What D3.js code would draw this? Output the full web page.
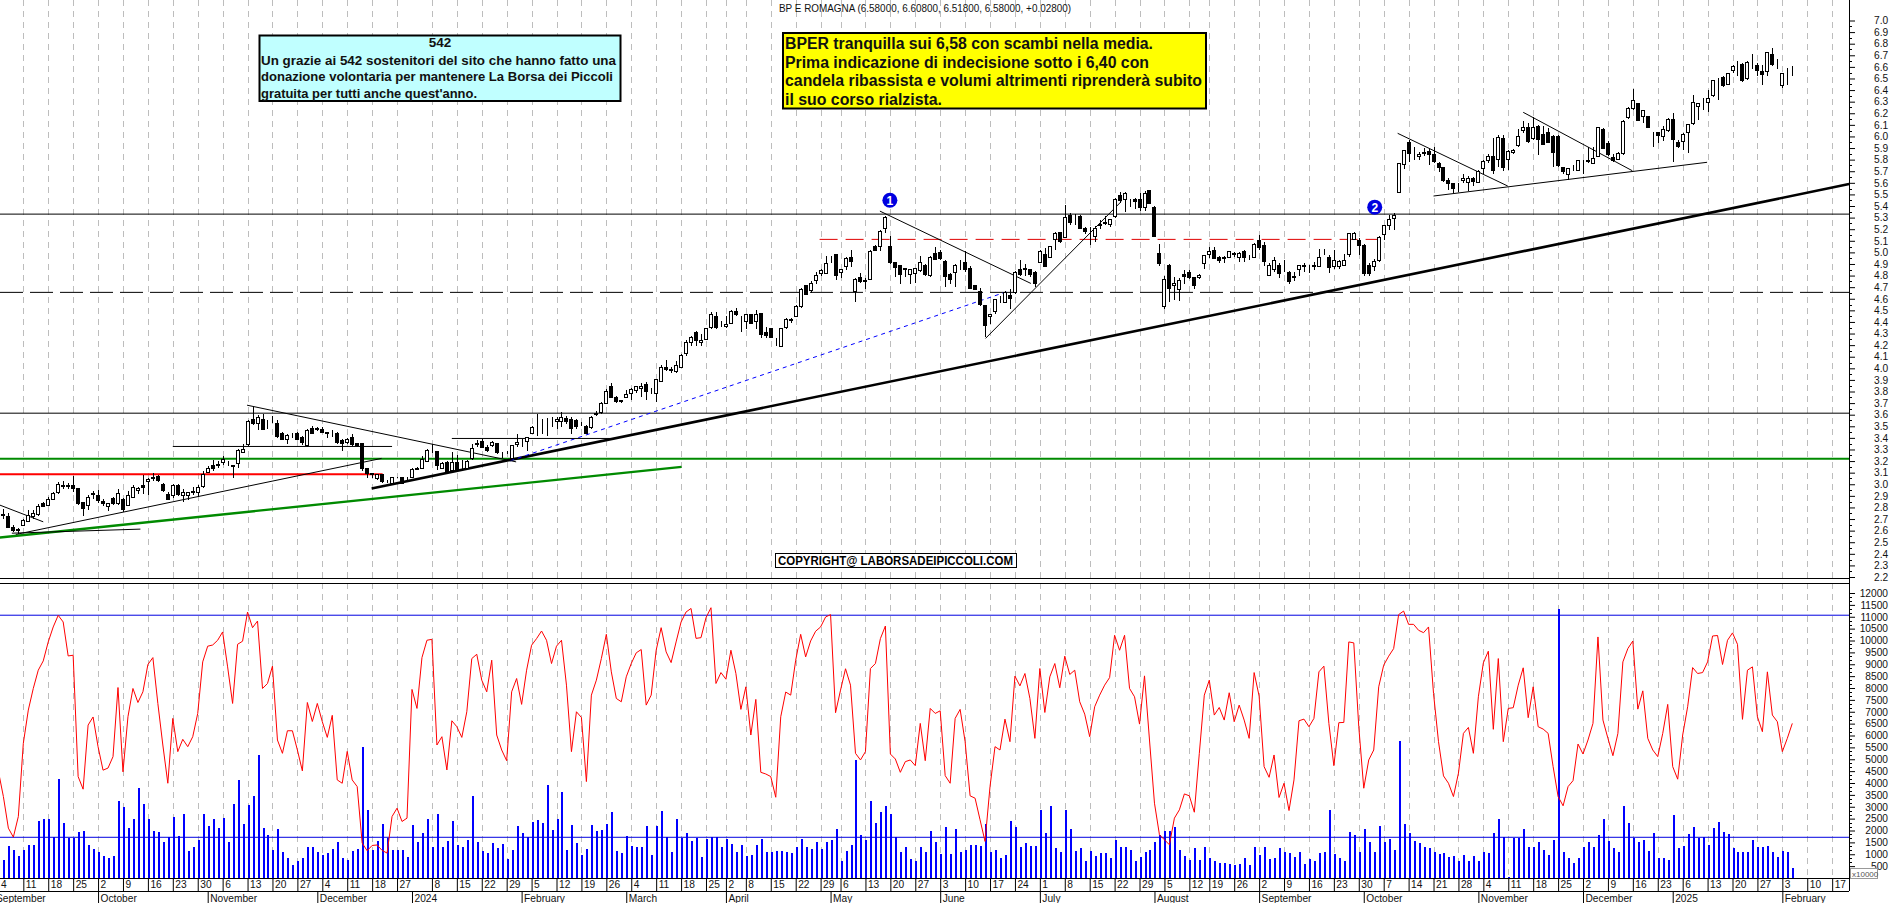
<!DOCTYPE html>
<html>
<head>
<meta charset="utf-8">
<title>BP E ROMAGNA</title>
<script src="https://cdnjs.cloudflare.com/ajax/libs/d3/7.8.5/d3.min.js"></script>
<style>
  html, body { margin: 0; padding: 0; background: #fff; overflow: hidden; }
  svg { display: block; font-family: "Liberation Sans", Arial, sans-serif; }
  .axis text { font-size: 10.2px; fill: #111; }
  .axis line { stroke: #000; }
</style>
</head>
<body>
<svg id="chart" width="1890" height="903"></svg>
<script>
// one row per session: open, high, low, close
const candles = [
[2.74,2.77,2.71,2.73],[2.74,2.79,2.70,2.73],[2.72,2.75,2.62,2.63],[2.63,2.65,2.59,2.60],[2.61,2.62,2.57,2.60],
[2.64,2.70,2.64,2.69],[2.68,2.78,2.68,2.73],[2.72,2.78,2.70,2.75],[2.74,2.83,2.73,2.81],[2.83,2.85,2.81,2.81],
[2.82,2.89,2.81,2.87],[2.87,2.93,2.87,2.92],[2.93,3.02,2.92,3.00],[2.98,3.03,2.96,2.99],[2.99,3.01,2.96,2.98],
[2.99,3.07,2.93,2.96],[2.96,2.96,2.82,2.83],[2.84,2.85,2.73,2.79],[2.82,2.91,2.78,2.89],[2.91,2.94,2.87,2.92],
[2.90,2.95,2.84,2.86],[2.85,2.87,2.81,2.83],[2.81,2.84,2.77,2.83],[2.88,2.89,2.82,2.83],[2.83,2.96,2.82,2.92],
[2.87,2.88,2.76,2.78],[2.82,2.94,2.81,2.90],[2.89,2.99,2.88,2.97],[2.95,2.98,2.92,2.96],[2.99,3.08,2.92,2.97],
[3.02,3.05,2.91,3.04],[3.05,3.10,3.03,3.06],[3.07,3.08,3.02,3.03],[3.00,3.01,2.93,2.95],[2.91,2.93,2.86,2.87],
[2.90,3.00,2.88,2.99],[2.99,3.00,2.90,2.91],[2.90,2.96,2.85,2.93],[2.90,2.93,2.86,2.93],[2.93,2.98,2.91,2.94],
[2.93,2.99,2.89,2.97],[2.98,3.11,2.97,3.08],[3.10,3.16,3.10,3.14],[3.16,3.21,3.11,3.14],[3.16,3.20,3.14,3.17],
[3.19,3.24,3.17,3.21],[3.18,3.20,3.16,3.18],[3.15,3.17,3.05,3.16],[3.18,3.30,3.14,3.29],[3.27,3.35,3.27,3.30],
[3.34,3.55,3.33,3.54],[3.56,3.67,3.51,3.52],[3.52,3.60,3.47,3.58],[3.56,3.61,3.47,3.47],[3.50,3.55,3.48,3.50],
[3.55,3.59,3.53,3.55],[3.52,3.55,3.40,3.41],[3.44,3.45,3.38,3.39],[3.39,3.43,3.35,3.42],[3.42,3.44,3.40,3.42],
[3.44,3.45,3.39,3.39],[3.40,3.42,3.34,3.36],[3.33,3.48,3.32,3.46],[3.48,3.50,3.43,3.44],[3.48,3.49,3.46,3.47],
[3.47,3.49,3.44,3.45],[3.44,3.45,3.40,3.45],[3.45,3.47,3.41,3.45],[3.44,3.45,3.35,3.36],[3.38,3.39,3.29,3.35],
[3.36,3.40,3.35,3.39],[3.40,3.43,3.33,3.34],[3.35,3.36,3.32,3.33],[3.35,3.36,3.11,3.14],[3.14,3.14,3.05,3.09],
[3.09,3.10,3.05,3.08],[3.05,3.09,3.04,3.08],[3.08,3.09,3.01,3.02],[3.02,3.04,3.01,3.02],[3.01,3.06,3.00,3.06],
[3.06,3.06,3.05,3.06],[3.06,3.06,3.01,3.01],[3.05,3.06,3.04,3.05],[3.06,3.14,3.05,3.13],[3.13,3.15,3.12,3.14],
[3.14,3.24,3.13,3.21],[3.20,3.30,3.19,3.29],[3.30,3.35,3.27,3.30],[3.28,3.29,3.12,3.16],[3.14,3.19,3.13,3.18],
[3.19,3.20,3.10,3.11],[3.12,3.28,3.10,3.19],[3.19,3.25,3.11,3.12],[3.16,3.21,3.12,3.16],[3.14,3.21,3.13,3.20],
[3.22,3.35,3.21,3.31],[3.34,3.38,3.32,3.35],[3.37,3.39,3.31,3.32],[3.32,3.34,3.28,3.29],[3.33,3.37,3.32,3.36],
[3.35,3.35,3.26,3.27],[3.26,3.28,3.23,3.26],[3.27,3.29,3.26,3.27],[3.22,3.34,3.22,3.33],[3.34,3.43,3.32,3.36],
[3.34,3.39,3.32,3.34],[3.37,3.41,3.29,3.40],[3.44,3.50,3.44,3.49],[3.50,3.61,3.42,3.50],[3.55,3.56,3.43,3.55],
[3.55,3.57,3.42,3.55],[3.55,3.58,3.49,3.55],[3.54,3.58,3.48,3.56],[3.54,3.62,3.49,3.58],[3.57,3.59,3.52,3.54],
[3.56,3.58,3.43,3.48],[3.55,3.56,3.48,3.50],[3.53,3.54,3.50,3.53],[3.50,3.51,3.43,3.44],[3.49,3.59,3.48,3.58],
[3.60,3.63,3.59,3.61],[3.62,3.71,3.61,3.70],[3.70,3.82,3.70,3.80],[3.84,3.87,3.75,3.75],[3.75,3.76,3.70,3.71],
[3.72,3.73,3.70,3.71],[3.75,3.81,3.74,3.77],[3.78,3.83,3.73,3.82],[3.81,3.85,3.79,3.84],[3.83,3.87,3.75,3.84],
[3.86,3.88,3.73,3.80],[3.81,3.83,3.78,3.81],[3.78,3.91,3.71,3.90],[3.89,4.03,3.89,4.01],[4.01,4.07,3.98,3.99],
[3.99,4.01,3.96,3.98],[3.97,4.06,3.96,4.02],[4.01,4.12,4.01,4.11],[4.13,4.24,4.11,4.22],[4.22,4.28,4.19,4.27],
[4.31,4.32,4.19,4.24],[4.22,4.30,4.19,4.24],[4.25,4.34,4.24,4.34],[4.35,4.49,4.34,4.46],[4.45,4.49,4.34,4.35],
[4.38,4.41,4.36,4.38],[4.36,4.45,4.35,4.38],[4.39,4.50,4.38,4.49],[4.49,4.52,4.45,4.46],[4.40,4.45,4.31,4.40],
[4.40,4.47,4.34,4.46],[4.46,4.46,4.38,4.39],[4.40,4.50,4.34,4.46],[4.47,4.48,4.26,4.29],[4.31,4.36,4.26,4.28],
[4.34,4.34,4.26,4.27],[4.22,4.26,4.19,4.22],[4.19,4.34,4.19,4.34],[4.35,4.43,4.34,4.42],[4.41,4.43,4.39,4.42],
[4.45,4.55,4.45,4.53],[4.53,4.69,4.52,4.68],[4.71,4.72,4.63,4.64],[4.67,4.75,4.65,4.73],[4.76,4.83,4.73,4.80],
[4.82,4.86,4.80,4.84],[4.82,4.97,4.81,4.90],[4.93,4.97,4.91,4.93],[4.98,4.99,4.76,4.80],[4.83,4.86,4.78,4.85],
[4.88,4.96,4.85,4.95],[4.96,5.02,4.87,4.92],[4.66,4.78,4.57,4.77],[4.78,4.82,4.74,4.75],[4.75,4.78,4.68,4.76],
[4.77,5.02,4.76,5.01],[5.05,5.06,5.01,5.02],[5.05,5.19,5.01,5.18],[5.21,5.31,5.17,5.30],[5.05,5.14,4.90,4.91],
[4.91,4.92,4.79,4.87],[4.89,4.89,4.73,4.81],[4.86,4.86,4.79,4.85],[4.81,4.85,4.73,4.85],[4.82,4.86,4.74,4.86],
[4.84,4.97,4.83,4.91],[4.89,4.90,4.80,4.81],[4.80,4.97,4.79,4.96],[4.99,5.05,4.93,4.94],[5.00,5.02,4.93,4.95],
[4.92,4.93,4.70,4.79],[4.81,4.82,4.73,4.77],[4.83,4.90,4.70,4.89],[4.90,4.93,4.85,4.90],[4.91,5.01,4.83,4.85],
[4.86,4.88,4.68,4.69],[4.71,4.72,4.68,4.68],[4.66,4.69,4.54,4.55],[4.54,4.55,4.27,4.37],[4.45,4.47,4.38,4.46],
[4.49,4.59,4.47,4.59],[4.60,4.62,4.56,4.60],[4.57,4.67,4.57,4.65],[4.63,4.68,4.51,4.60],[4.65,4.84,4.64,4.83],
[4.85,4.93,4.80,4.81],[4.85,4.90,4.80,4.86],[4.85,4.86,4.79,4.81],[4.83,4.84,4.70,4.73],[4.91,5.02,4.91,5.01],
[4.98,5.04,4.87,4.88],[4.96,5.05,4.95,5.05],[5.11,5.18,5.02,5.16],[5.17,5.18,5.08,5.09],[5.13,5.41,5.12,5.30],
[5.32,5.34,5.24,5.26],[5.29,5.33,5.24,5.29],[5.31,5.32,5.20,5.21],[5.21,5.22,5.16,5.18],[5.14,5.22,5.06,5.14],
[5.14,5.23,5.09,5.21],[5.23,5.28,5.20,5.24],[5.25,5.31,5.24,5.26],[5.24,5.29,5.22,5.28],[5.31,5.47,5.30,5.46],
[5.49,5.52,5.43,5.45],[5.46,5.52,5.35,5.51],[5.45,5.46,5.39,5.45],[5.46,5.47,5.37,5.44],[5.46,5.51,5.36,5.39],
[5.39,5.53,5.36,5.51],[5.53,5.54,5.42,5.42],[5.39,5.40,5.13,5.14],[4.99,5.07,4.88,4.90],[4.53,4.80,4.51,4.77],
[4.89,4.90,4.57,4.69],[4.71,4.79,4.59,4.73],[4.68,4.78,4.58,4.76],[4.81,4.85,4.73,4.79],[4.83,4.85,4.77,4.78],
[4.78,4.79,4.68,4.71],[4.78,4.81,4.77,4.80],[4.90,4.98,4.86,4.97],[4.98,5.05,4.95,5.01],[5.02,5.05,4.94,4.95],
[4.96,4.97,4.91,4.93],[4.95,4.97,4.91,4.96],[4.96,5.01,4.96,5.01],[4.98,5.00,4.96,4.99],[4.96,5.00,4.92,4.99],
[5.01,5.02,4.92,4.96],[4.96,4.98,4.93,4.96],[4.96,5.08,4.95,5.07],[5.10,5.15,5.02,5.04],[5.06,5.09,4.88,4.92],
[4.80,4.91,4.80,4.89],[4.85,4.96,4.83,4.93],[4.89,4.91,4.78,4.82],[4.84,4.93,4.83,4.84],[4.83,4.84,4.73,4.75],
[4.78,4.83,4.75,4.79],[4.85,4.89,4.80,4.89],[4.88,4.91,4.83,4.89],[4.88,4.89,4.82,4.88],[4.88,4.92,4.85,4.89],
[4.88,5.03,4.87,4.96],[5.00,5.03,4.98,5.00],[4.96,4.98,4.82,4.87],[4.88,5.02,4.86,4.93],[4.88,4.93,4.86,4.92],
[4.89,4.99,4.88,4.93],[4.98,5.17,4.96,5.16],[5.11,5.18,5.11,5.16],[5.10,5.12,4.98,5.06],[5.06,5.07,4.80,4.82],
[4.89,4.91,4.80,4.82],[4.88,4.94,4.84,4.92],[4.93,5.14,4.92,5.13],[5.15,5.24,5.11,5.23],[5.23,5.32,5.19,5.28],
[5.29,5.34,5.19,5.32],[5.52,5.77,5.51,5.77],[5.76,5.88,5.72,5.88],[5.95,5.97,5.78,5.85],[5.86,5.91,5.80,5.86],
[5.83,5.87,5.80,5.84],[5.86,5.90,5.83,5.85],[5.87,5.89,5.75,5.84],[5.84,5.91,5.77,5.78],[5.77,5.78,5.69,5.73],
[5.73,5.73,5.61,5.62],[5.62,5.64,5.54,5.59],[5.59,5.60,5.51,5.55],[5.59,5.60,5.52,5.59],[5.62,5.68,5.60,5.64],
[5.60,5.66,5.53,5.64],[5.64,5.65,5.57,5.61],[5.60,5.71,5.60,5.70],[5.72,5.80,5.68,5.78],[5.79,5.85,5.77,5.83],
[5.83,5.99,5.68,5.71],[5.80,6.01,5.74,5.99],[5.98,6.01,5.70,5.73],[5.80,5.88,5.71,5.87],[5.86,5.89,5.85,5.88],
[5.92,6.06,5.91,6.00],[6.05,6.13,6.03,6.08],[6.08,6.12,5.94,5.96],[5.98,6.17,5.97,6.08],[6.09,6.10,5.84,5.97],
[6.02,6.09,5.93,5.93],[6.03,6.07,5.94,5.95],[6.00,6.01,5.74,5.86],[6.00,6.01,5.74,5.75],[5.73,5.74,5.68,5.70],
[5.67,5.73,5.62,5.72],[5.75,5.75,5.70,5.75],[5.71,5.80,5.70,5.79],[5.78,5.80,5.68,5.78],[5.79,5.91,5.77,5.78],
[5.77,5.91,5.76,5.81],[5.83,6.08,5.83,6.08],[6.06,6.07,5.90,5.90],[5.94,5.96,5.83,5.84],[5.82,5.85,5.78,5.79],
[5.80,5.87,5.80,5.85],[5.85,6.14,5.84,6.13],[6.16,6.25,6.15,6.24],[6.24,6.41,6.23,6.31],[6.28,6.29,6.13,6.14],
[6.17,6.23,6.12,6.22],[6.17,6.18,6.07,6.08],[6.03,6.04,5.91,6.03],[6.03,6.04,5.94,6.01],[6.00,6.09,5.96,6.06],
[6.05,6.16,6.04,6.15],[6.15,6.20,5.78,5.97],[5.95,5.97,5.90,5.91],[5.96,6.03,5.88,6.02],[6.03,6.11,5.86,6.10],
[6.11,6.36,6.10,6.29],[6.26,6.29,6.14,6.28],[6.29,6.33,6.23,6.29],[6.29,6.40,6.21,6.33],[6.35,6.49,6.34,6.48],
[6.49,6.50,6.31,6.49],[6.51,6.52,6.43,6.44],[6.45,6.55,6.44,6.54],[6.57,6.62,6.55,6.60],[6.59,6.65,6.52,6.59],
[6.62,6.63,6.47,6.48],[6.50,6.65,6.49,6.64],[6.65,6.71,6.58,6.65],[6.61,6.63,6.52,6.57],[6.56,6.62,6.44,6.53],
[6.56,6.73,6.52,6.72],[6.71,6.76,6.61,6.62],[6.62,6.67,6.58,6.62],[6.44,6.55,6.42,6.54],[6.58,6.59,6.44,6.58],
[6.58,6.608,6.518,6.58]
];

const volumes = [
900,770,1360,1190,910,1160,1370,1390,2420,2490,
2490,1710,4170,2310,1670,1680,1930,1970,1390,1220,
1110,940,850,910,3250,3010,2110,2480,3780,3120,
2480,1960,1950,1530,1720,2580,1780,2700,1150,1320,
1600,2690,2200,2490,2110,2530,1530,3120,4120,2270,
3070,3440,5180,2100,1810,1190,2060,1090,850,560,
730,840,1300,1300,1090,950,1050,1230,1510,850,
770,1150,1230,5500,2860,1200,1550,2280,1680,1190,
1190,1190,900,2230,1510,1890,2490,1300,2700,1290,
1570,2410,1400,1320,1610,3440,1530,1150,1050,1470,
1260,1430,810,1190,2200,1900,1720,2340,2440,2310,
3910,2020,2480,3630,1190,2240,1480,950,1220,2230,
1970,2040,2280,2770,1150,1050,1780,1360,1320,1320,
2200,980,2200,2830,1720,1110,2490,1670,1900,1570,
1680,900,1640,1720,1720,1300,1640,1430,1090,1400,
910,950,1400,1640,1110,1090,1120,1150,1110,1050,
1320,1650,1320,1230,1530,1220,1530,1600,2070,730,
1150,1400,4970,1820,1610,3250,2320,2770,3040,2690,
1720,1110,1320,810,730,1320,1110,1990,1530,1010,
2160,1010,2070,1110,1190,1400,1400,1360,2280,1110,
1190,850,970,2410,2160,1300,1470,1360,1360,2870,
1900,3040,1260,1110,2870,2070,1150,1260,730,1150,
940,1060,1050,850,1610,1320,1300,1190,730,900,
1110,1190,1530,1810,1960,1990,2160,1190,940,740,
1260,770,1320,850,730,640,640,600,560,600,
850,560,1320,980,1320,810,850,1260,1110,1050,
900,1110,600,810,730,1060,1110,2870,1020,850,
730,1950,1820,1090,2070,1510,1110,2200,1530,1650,
1190,5770,2280,1890,1550,1470,1320,1280,1110,1020,
1060,880,940,730,980,700,940,730,1110,1060,
1890,2490,1720,50,1680,1680,2060,1300,1320,1500,
1190,980,1610,11310,1090,850,630,840,1300,1530,
1300,1820,2480,1570,1280,1110,3040,2320,1680,1530,
1600,1130,1900,850,850,770,2660,1260,1360,1860,
2160,1690,1720,1410,2110,2370,1950,1860,1260,1110,
1110,1110,1610,1300,1320,1360,1110,880,1150,1110,
430
];

const oscillator = [
4490,3430,2100,1720,2590,5670,7070,7980,8750,9140,
9940,10570,11060,10780,9350,9380,4270,3740,6440,6780,
5530,4540,4630,5110,8020,4470,6790,7980,7390,7840,
8990,9280,7350,5600,3990,6720,5320,5840,5530,5950,
6930,9100,9760,9810,10010,10360,8890,7350,9840,9970,
11200,10540,10820,7980,8190,8920,5810,5250,6200,6200,
5390,4510,7390,6590,7350,6580,5920,6850,4130,3990,
5330,4130,3850,1470,1150,1370,1390,1160,1050,2590,
2940,2380,2520,7940,7140,9280,10010,10050,5600,5950,
4550,6620,6370,5920,7000,9240,9420,8330,7840,9170,
6020,5390,4940,7840,8400,7310,8750,9800,10080,10400,
10010,9030,9760,10010,8120,5320,7000,6760,4060,7700,
8330,9240,10260,8680,7560,7420,8470,9030,9480,9620,
7280,7700,9590,10540,9520,9070,9940,10780,11200,11350,
10090,10120,10960,11380,8190,8650,8370,9590,8610,7100,
8050,6020,7520,4450,4380,4270,3400,6790,7830,7700,
9170,10260,9310,9980,10390,10570,10990,11090,6960,7910,
8810,8120,5250,4970,5320,8820,9030,10080,10610,5220,
5010,4450,4900,4970,4730,6510,4940,7140,6930,7040,
4310,3990,6720,7100,5740,3460,3360,2450,1540,3850,
5530,5390,6690,5740,8500,8090,8610,7560,5880,8820,
6970,8470,9030,8010,9340,8570,8750,7420,6900,5950,
7210,7700,8120,8440,10220,9590,10220,7980,7630,6480,
8510,5810,3150,1820,1610,1400,2520,2870,3540,3460,
2770,5250,7700,8330,6860,7180,6650,7800,6580,7280,
6650,5880,8650,7660,4690,4240,5180,3390,3990,2840,
4130,6620,6690,6370,6720,8680,8920,6510,4730,6540,
6550,9940,9900,6370,3780,4970,5390,8050,8960,9340,
9660,11090,11240,10680,10680,10430,10330,10570,7770,5740,
4300,3990,3430,4410,6090,6340,5250,7630,9060,9550,
6260,9240,5740,7140,7170,8120,8850,6750,8050,6370,
6270,6090,4690,3430,3040,3850,4100,5640,5220,5810,
6510,10150,6650,5880,5150,6090,9100,9660,9980,7110,
7880,5880,5390,5110,6090,7310,4690,4160,6020,7210,
8860,8610,8650,9100,10190,10210,8990,10010,10320,9840,
6680,8750,8890,6790,6160,8680,6860,6580,5320,5880,
6510
];

// session index of each date label on the first row
const dateTicks = [0,5,10,15,20,25,30,35,40,45,50,55,60,65,70,75,80,87,92,97,102,107,112,117,122,127,132,137,142,146,150,155,160,165,169,174,179,184,189,194,199,204,209,214,219,224,229,234,239,243,248,253,258,263,268,273,278,283,288,293,298,303,308,313,318,323,328,333,338,343,348,353,358,363,368];
const dateLabels = ["4","11","18","25","2","9","16","23","30","6","13","20","27","4","11","18","27","8","15","22","29","5","12","19","26","4","11","18","25","2","8","15","22","29","6","13","20","27","3","10","17","24","1","8","15","22","29","5","12","19","26","2","9","16","23","30","7","14","21","28","4","11","18","25","2","9","16","23","6","13","20","27","3","10","17"];

const monthTicks = [-1,20,42,64,83,105,126,146,167,189,209,232,253,274,297,318,336,358];
const monthLabels = ["September","October","November","December","2024","February","March","April","May","June","July","August","September","October","November","December","2025","February"];

const priceTicks = d3.range(22, 71).map(d => d / 10);
const volumeTicks = d3.range(1, 25).map(d => d * 500);

// reference levels on the price panel
const levels = [
  { price: 5.33, color: "#000", width: 1 },
  { price: 4.655, color: "#000", width: 1, dash: "23,7" },
  { price: 3.613, color: "#000", width: 1 },
  { price: 3.219, color: "#008a00", width: 2 }
];

// hand drawn trend lines: from session, from price, to session, to price
const trendLines = [
  { p: [0.3, 2.541, 137.1, 3.15], color: "#008a00", width: 2.4 },
  { p: [74.9, 2.964, 371.4, 5.589], color: "#000", width: 2.6 },
  { p: [0, 3.087, 77.1, 3.087], color: "#ff0000", width: 2 },
  { p: [164.8, 5.112, 277, 5.112], color: "#e00000", width: 1, dash: "18,8" },
  { p: [102.7, 3.202, 202.3, 4.66], color: "#0000ff", width: 1, dash: "4,4" },
  { p: [3.5, 2.567, 76.9, 3.223], color: "#000", width: 1 },
  { p: [2.7, 2.578, 28.5, 2.613], color: "#000", width: 1 },
  { p: [0.3, 2.82, 9, 2.676], color: "#000", width: 1 },
  { p: [49.9, 3.682, 103.9, 3.193], color: "#000", width: 1 },
  { p: [35, 3.326, 79, 3.326], color: "#000", width: 1 },
  { p: [91, 3.395, 122.8, 3.395], color: "#000", width: 1 },
  { p: [176.9, 5.356, 207.2, 4.732], color: "#000", width: 1 },
  { p: [198.1, 4.258, 225.3, 5.437], color: "#000", width: 1 },
  { p: [280.8, 6.027, 302.9, 5.572], color: "#000", width: 1 },
  { p: [306, 6.208, 327.9, 5.704], color: "#000", width: 1 },
  { p: [288, 5.486, 342.9, 5.777], color: "#000", width: 1 }
];

const markers = [
  { label: "1", session: 178.9, price: 5.45 },
  { label: "2", session: 276.2, price: 5.39 }
];

const volumeLevels = [11065, 1714];

const title = "BP E ROMAGNA (6.58000, 6.60800, 6.51800, 6.58000, +0.02800)";
const noteLines = [
  "542",
  "Un grazie ai 542 sostenitori del sito che hanno fatto una",
  "donazione volontaria per mantenere La Borsa dei Piccoli",
  "gratuita per tutti anche quest'anno."
];
const commentLines = [
  "BPER tranquilla sui 6,58 con scambi nella media.",
  "Prima indicazione di indecisione sotto i 6,40 con",
  "candela ribassista e volumi altrimenti riprenderà subito",
  "il suo corso rialzista."
];

const axisX = 1849;
const panelBottom = 878;
const svg = d3.select("#chart");

const x = d3.scaleLinear().domain([0, 360]).range([-1.6, 1792.3]);
const yPrice = d3.scaleLinear().domain([2.2, 7]).range([577, 20.5]);
const yLow = d3.scaleLinear().domain([0, 12000]).range([panelBottom, 593]);
const snap = v => Math.round(v) + 0.5;

const hline = (g, y, x1, x2, color, width, dash) => g.append("line")
  .attr("x1", x1).attr("x2", x2).attr("y1", y).attr("y2", y)
  .attr("stroke", color).attr("stroke-width", width)
  .attr("stroke-dasharray", dash || null);

// dashed weekly grid, both panels
svg.append("g").selectAll("line").data(dateTicks).join("line")
  .attr("x1", d => snap(x(d))).attr("x2", d => snap(x(d)))
  .attr("y1", 0).attr("y2", panelBottom)
  .attr("stroke", "#bdbdbd").attr("stroke-dasharray", "6,5")
  .attr("shape-rendering", "crispEdges");

// price panel lines
const lineLayer = svg.append("g");
levels.forEach(l => hline(lineLayer, yPrice(l.price), 0, axisX, l.color, l.width, l.dash));
lineLayer.selectAll(".trend").data(trendLines).join("line")
  .attr("class", "trend")
  .attr("x1", d => x(d.p[0])).attr("y1", d => yPrice(d.p[1]))
  .attr("x2", d => x(d.p[2])).attr("y2", d => yPrice(d.p[3]))
  .attr("stroke", d => d.color).attr("stroke-width", d => d.width)
  .attr("stroke-dasharray", d => d.dash || null);

// candles
const candleLayer = svg.append("g").attr("shape-rendering", "crispEdges");
candleLayer.selectAll("line").data(candles).join("line")
  .attr("x1", (d, i) => snap(x(i))).attr("x2", (d, i) => snap(x(i)))
  .attr("y1", d => yPrice(d[1])).attr("y2", d => yPrice(d[2]))
  .attr("stroke", "#000");
candleLayer.selectAll("rect").data(candles).join("rect")
  .attr("x", (d, i) => snap(x(i)) - 2)
  .attr("width", 3)
  .attr("y", d => yPrice(Math.max(d[0], d[3])))
  .attr("height", d => Math.abs(yPrice(d[0]) - yPrice(d[3])))
  .attr("fill", d => d[3] >= d[0] ? "#fff" : "#000")
  .attr("stroke", "#000");

// numbered circles
const mark = svg.append("g").selectAll("g").data(markers).join("g")
  .attr("transform", d => `translate(${x(d.session)},${yPrice(d.price)})`);
mark.append("circle").attr("r", 7.5).attr("fill", "#0000e0");
mark.append("text").attr("text-anchor", "middle").attr("y", 4.5)
  .attr("font-size", 12).attr("font-weight", "bold").attr("fill", "#fff")
  .text(d => d.label);

// lower panel
const lower = svg.append("g");
lower.append("g").attr("shape-rendering", "crispEdges")
  .selectAll("rect").data(volumes).join("rect")
  .attr("x", (d, i) => Math.round(x(i)))
  .attr("width", 2)
  .attr("y", d => yLow(d))
  .attr("height", d => panelBottom - yLow(d))
  .attr("fill", "#0000ff");
volumeLevels.forEach(v => hline(lower, yLow(v), 0, axisX, "#0000e0", 1));
lower.append("path")
  .datum(oscillator)
  .attr("fill", "none").attr("stroke", "#ff0000").attr("stroke-width", 1)
  .attr("d", d3.line().x((d, i) => x(i)).y(d => yLow(d)));

// panel frame
const frame = svg.append("g").attr("shape-rendering", "crispEdges");
hline(frame, 578.5, 0, axisX, "#000", 1);
hline(frame, 583.5, 0, axisX, "#000", 1);
frame.append("line").attr("x1", axisX + .5).attr("x2", axisX + .5)
  .attr("y1", 0).attr("y2", 891).attr("stroke", "#000");

// right hand axes, long ticks carry labels, short ones between them
const priceAxis = svg.append("g").attr("class", "axis")
  .attr("transform", `translate(${axisX},0)`)
  .call(d3.axisRight(yPrice).tickValues(priceTicks).tickFormat(d3.format(".1f")).tickSize(6).tickPadding(19));
priceAxis.select(".domain").remove();
const lowAxis = svg.append("g").attr("class", "axis")
  .attr("transform", `translate(${axisX},0)`)
  .call(d3.axisRight(yLow).tickValues(volumeTicks).tickFormat(d3.format("d")).tickSize(6).tickPadding(33));
lowAxis.select(".domain").remove();
lowAxis.selectAll("text").attr("text-anchor", "end");

const priceMinor = priceTicks.map(d => d + 0.05).filter(d => d < 7);
const lowMinor = d3.range(1, 72).filter(d => d % 3).map(d => d * 500 / 3);
const minorLayer = svg.append("g").attr("stroke", "#000").attr("shape-rendering", "crispEdges");
minorLayer.selectAll(".pm").data(priceMinor).join("line").attr("class", "pm")
  .attr("x1", axisX).attr("x2", axisX + 3)
  .attr("y1", d => Math.round(yPrice(d)) + .5).attr("y2", d => Math.round(yPrice(d)) + .5);
minorLayer.selectAll(".lm").data(lowMinor).join("line").attr("class", "lm")
  .attr("x1", axisX).attr("x2", axisX + 3)
  .attr("y1", d => Math.round(yLow(d)) + .5).attr("y2", d => Math.round(yLow(d)) + .5);

// date rows
const dateAxis = svg.append("g").attr("class", "axis")
  .attr("transform", `translate(0,${panelBottom + .5})`)
  .call(d3.axisBottom(x).tickValues(dateTicks)
    .tickFormat(d => dateLabels[dateTicks.indexOf(d)]).tickSize(13).tickSizeOuter(0));
dateAxis.select(".domain").attr("d", `M0,0H${axisX}`).attr("stroke", "#000");
dateAxis.selectAll("text").attr("text-anchor", "start").attr("x", 2).attr("y", 9.8).attr("dy", 0);

const monthAxis = svg.append("g").attr("class", "axis")
  .attr("transform", "translate(0,891.5)")
  .call(d3.axisBottom(x).tickValues(monthTicks)
    .tickFormat(d => monthLabels[monthTicks.indexOf(d)]).tickSize(12).tickSizeOuter(0));
monthAxis.select(".domain").attr("d", `M0,0H${axisX}`).attr("stroke", "#000");
monthAxis.selectAll("text").attr("text-anchor", "start").attr("x", 2).attr("y", 10.8).attr("dy", 0);

// x10000 tag in the corner of the lower axis
const tag = svg.append("g");
tag.append("rect").attr("x", 1850.5).attr("y", 868.5).attr("width", 27).attr("height", 10)
  .attr("fill", "#fff").attr("stroke", "#999");
tag.append("text").attr("x", 1852).attr("y", 876.5).attr("font-size", 8).attr("fill", "#555").text("x10000");

// title and text boxes
svg.append("text").attr("x", 779).attr("y", 12).attr("font-size", 10.5).attr("fill", "#111")
  .attr("textLength", 292).attr("lengthAdjust", "spacingAndGlyphs").text(title);

const box = (rect, fill, borderWidth) => svg.append("rect")
  .attr("x", rect[0]).attr("y", rect[1]).attr("width", rect[2]).attr("height", rect[3])
  .attr("fill", fill).attr("stroke", "#000").attr("stroke-width", borderWidth);

box([259.5, 35.5, 361, 65.5], "#c0ffff", 2);
const noteWidths = [null, 355, 352, 216];
const noteBase = [47, 65, 81, 98];
svg.append("g").selectAll("text").data(noteLines).join("text")
  .attr("x", (d, i) => i ? 261 : 440)
  .attr("y", (d, i) => noteBase[i])
  .attr("text-anchor", (d, i) => i ? "start" : "middle")
  .attr("font-size", 13.5).attr("font-weight", "bold").attr("fill", "#111")
  .attr("textLength", (d, i) => noteWidths[i])
  .attr("lengthAdjust", "spacingAndGlyphs")
  .text(d => d);

box([783, 33, 423, 75.5], "#ffff00", 2);
const commentWidths = [368, 364, 417, 157];
const commentBase = [49, 68, 86, 105];
svg.append("g").selectAll("text").data(commentLines).join("text")
  .attr("x", 785)
  .attr("y", (d, i) => commentBase[i])
  .attr("font-size", 16).attr("font-weight", "bold").attr("fill", "#111")
  .attr("textLength", (d, i) => commentWidths[i])
  .attr("lengthAdjust", "spacingAndGlyphs")
  .text(d => d);

box([775.5, 553.5, 241, 14], "#fff", 1);
svg.append("text").attr("x", 778).attr("y", 565)
  .attr("font-size", 12).attr("font-weight", "bold").attr("fill", "#000")
  .attr("textLength", 235).attr("lengthAdjust", "spacingAndGlyphs")
  .text("COPYRIGHT@ LABORSADEIPICCOLI.COM");
</script>
</body>
</html>
